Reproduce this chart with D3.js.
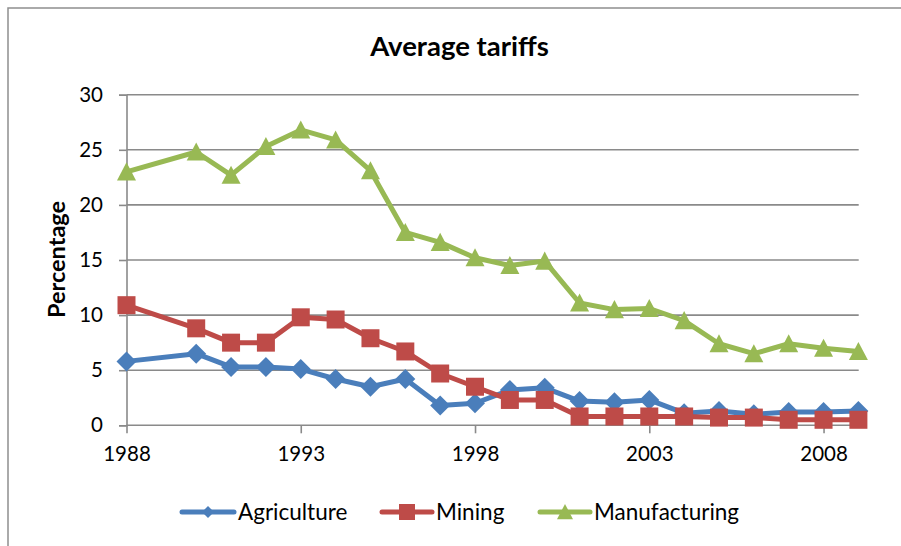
<!DOCTYPE html>
<html>
<head>
<meta charset="utf-8">
<script src="https://cdn.jsdelivr.net/npm/d3@7"></script>
<style>
  html, body { margin: 0; padding: 0; background: #fff; }
  svg { display: block; font-family: Lato, "Open Sans", sans-serif; }
</style>
</head>
<body>
<svg id="chart" width="901" height="546"></svg>
<script>
// Average tariff rates by sector (percent)
const years = [1988, 1990, 1991, 1992, 1993, 1994, 1995, 1996, 1997, 1998, 1999,
               2000, 2001, 2002, 2003, 2004, 2005, 2006, 2007, 2008, 2009];
const agriculture = [5.8, 6.5, 5.3, 5.3, 5.1, 4.2, 3.5, 4.2, 1.8, 2.0, 3.2,
                     3.4, 2.2, 2.1, 2.3, 1.1, 1.3, 1.0, 1.2, 1.2, 1.3];
const mining = [10.9, 8.8, 7.5, 7.5, 9.8, 9.6, 7.9, 6.7, 4.7, 3.5, 2.3,
                2.3, 0.8, 0.8, 0.8, 0.8, 0.7, 0.7, 0.5, 0.5, 0.5];
const manufacturing = [23.0, 24.8, 22.7, 25.3, 26.8, 25.9, 23.1, 17.5, 16.6, 15.2, 14.5,
                       14.9, 11.1, 10.5, 10.6, 9.5, 7.4, 6.5, 7.4, 7.0, 6.7];
const seriesNames = ["Agriculture", "Mining", "Manufacturing"];
const xTicks = [1988, 1993, 1998, 2003, 2008];
const yTicks = [0, 5, 10, 15, 20, 25, 30];

const series = [
  { name: seriesNames[0], values: agriculture, color: "#4a7ebb", marker: "diamond" },
  { name: seriesNames[1], values: mining, color: "#be4b48", marker: "square" },
  { name: seriesNames[2], values: manufacturing, color: "#98b954", marker: "triangle" }
];

const svg = d3.select("#chart");

// outer chart frame
svg.append("rect")
  .attr("x", 8).attr("y", 8)
  .attr("width", 905).attr("height", 550)
  .attr("fill", "none").attr("stroke", "#8e8e8e").attr("stroke-width", 1.5);

const x = d3.scaleLinear().domain([1988, 2009]).range([126.5, 858.4]);
const y = d3.scaleLinear().domain([0, 30]).range([425.3, 94.7]);
const gridRight = 858.7;

// horizontal gridlines
svg.append("g").selectAll("line")
  .data(yTicks.filter(d => d > 0))
  .join("line")
  .attr("x1", x(1988)).attr("x2", gridRight)
  .attr("y1", d => y(d)).attr("y2", d => y(d))
  .attr("stroke", "#8a8a8a").attr("stroke-width", 1.6);

// y axis
const yAxis = svg.append("g")
  .attr("transform", `translate(${x(1988)},0)`)
  .call(d3.axisLeft(y).tickValues(yTicks).tickSize(7.5).tickPadding(16));
yAxis.select(".domain").attr("stroke", "#8a8a8a").attr("stroke-width", 1.6);
yAxis.selectAll(".tick line").attr("stroke", "#8a8a8a").attr("stroke-width", 1.6);
yAxis.selectAll(".tick text")
  .attr("font-size", 20.5).attr("fill", "#000").attr("font-family", "Lato");

// x axis
const xAxis = svg.append("g")
  .attr("transform", `translate(0,${y(0)})`)
  .call(d3.axisBottom(x).tickValues(xTicks).tickFormat(d3.format("d")).tickSize(8).tickPadding(13));
xAxis.select(".domain").attr("d", `M${x(1988)},0H${gridRight}`)
  .attr("stroke", "#8a8a8a").attr("stroke-width", 1.6);
xAxis.selectAll(".tick line").attr("stroke", "#8a8a8a").attr("stroke-width", 1.6);
xAxis.selectAll(".tick text")
  .attr("font-size", 20.5).attr("fill", "#000").attr("font-family", "Lato");

// marker shapes centred on (0,0)
function markerPath(type, s) {
  if (type === "diamond") {
    return `M0,${-s}L${s},0L0,${s}L${-s},0Z`;
  }
  if (type === "square") {
    return `M${-s},${-s}H${s}V${s}H${-s}Z`;
  }
  // triangle
  return `M0,${-s}L${s},${s * 0.9}L${-s},${s * 0.9}Z`;
}
const markerSize = { diamond: 10, square: 9, triangle: 9.5 };

const line = d3.line()
  .x((d, i) => x(years[i]))
  .y(d => y(d));

series.forEach(s => {
  const g = svg.append("g");
  g.append("path")
    .datum(s.values)
    .attr("d", line)
    .attr("fill", "none")
    .attr("stroke", s.color)
    .attr("stroke-width", 5)
    .attr("stroke-linejoin", "round");
  g.selectAll("path.m")
    .data(s.values)
    .join("path")
    .attr("class", "m")
    .attr("transform", (d, i) => `translate(${x(years[i])},${y(d)})`)
    .attr("d", markerPath(s.marker, markerSize[s.marker]))
    .attr("fill", s.color);
});

// title
svg.append("text")
  .attr("x", 459.5).attr("y", 56)
  .attr("text-anchor", "middle")
  .attr("font-size", 27.5).attr("font-weight", "bold")
  .attr("font-family", "Lato")
  .text("Average tariffs");

// y axis title
svg.append("text")
  .attr("transform", "translate(65,259.5) rotate(-90)")
  .attr("text-anchor", "middle")
  .attr("font-size", 23.5).attr("font-weight", "bold")
  .attr("font-family", "Lato")
  .text("Percentage");

// legend
const legendItems = [
  { x1: 182, x2: 234 },
  { x1: 382, x2: 432 },
  { x1: 540, x2: 590 }
];
const legendY = 512;
series.forEach((s, i) => {
  const it = legendItems[i];
  const g = svg.append("g");
  g.append("line")
    .attr("x1", it.x1).attr("x2", it.x2)
    .attr("y1", legendY).attr("y2", legendY)
    .attr("stroke", s.color).attr("stroke-width", 5).attr("stroke-linecap", "round");
  g.append("path")
    .attr("transform", `translate(${(it.x1 + it.x2) / 2},${legendY})`)
    .attr("d", markerPath(s.marker, s.marker === "diamond" ? 6 : 8))
    .attr("fill", s.color);
  g.append("text")
    .attr("x", it.x2 + 4).attr("y", legendY + 8)
    .attr("font-size", 22.5)
    .attr("font-family", "Lato")
    .text(s.name);
});
</script>
</body>
</html>
